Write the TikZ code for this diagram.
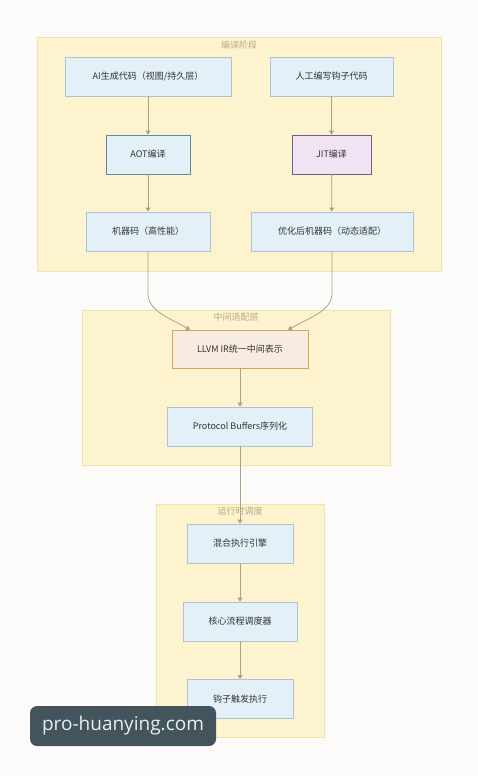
\documentclass[tikz,border=0pt]{standalone}
\usepackage{fontspec}
\setmainfont{Noto Sans CJK SC}
\newfontfamily\wmfont{Open Sans}
\usetikzlibrary{arrows.meta}
\definecolor{bgc}{HTML}{FDFBFA}
\definecolor{clfill}{HTML}{FDF3CE}
\definecolor{cldraw}{HTML}{F2E2AE}
\definecolor{nfill}{HTML}{E3F0F8}
\definecolor{ndraw}{HTML}{AFC2D2}
\definecolor{aotdraw}{HTML}{5E8C9C}
\definecolor{jitfill}{HTML}{EFE3F4}
\definecolor{jitdraw}{HTML}{6E5E80}
\definecolor{llfill}{HTML}{F8ECE0}
\definecolor{lldraw}{HTML}{E0A060}
\definecolor{arr}{HTML}{A8A486}
\definecolor{ttl}{HTML}{B8AA86}
\definecolor{wmbg}{HTML}{3A4C55}
\definecolor{wmtx}{HTML}{E8F0EC}
\tikzset{
  cluster/.style={fill=clfill, draw=cldraw, line width=0.6pt},
  ctitle/.style={text=ttl, font=\fontsize{9}{10}\selectfont, inner sep=0pt},
  nbox/.style={fill=nfill, draw=ndraw, line width=0.8pt, inner sep=0pt,
    font=\fontsize{9}{10}\selectfont, text=black!80},
  link/.style={draw=arr, line width=0.8pt, -{Triangle[width=5pt,length=4pt]}},
}
\begin{document}
\begin{tikzpicture}[x=1pt,y=-1pt]
\fill[bgc] (0,0) rectangle (478,776);
\useasboundingbox (0,0) rectangle (478,776);
% clusters
\draw[cluster] (37,37) rectangle (441,271);
\node[ctitle] (t1) at (239,45) {编译阶段};
\draw[cluster] (82,310) rectangle (390,465);
\node[ctitle] (t2) at (236,317) {中间适配层};
\draw[cluster] (156,504) rectangle (324,737);
\node[ctitle] (t3) at (240,511) {运行时调度};
% nodes
\node[nbox, minimum width=166pt, minimum height=39pt] (ai) at (148,76.5) {AI生成代码（视图/持久层）};
\node[nbox, minimum width=123pt, minimum height=39pt] (hand) at (331.5,76.5) {人工编写钩子代码};
\node[nbox, draw=aotdraw, minimum width=84pt, minimum height=39pt] (aot) at (148,154.5) {AOT编译};
\node[nbox, fill=jitfill, draw=jitdraw, minimum width=79pt, minimum height=39pt] (jit) at (331.5,154.5) {JIT编译};
\node[nbox, minimum width=124pt, minimum height=39pt] (mc) at (148,231.5) {机器码（高性能）};
\node[nbox, minimum width=162pt, minimum height=39pt] (omc) at (332,231.5) {优化后机器码（动态适配）};
\node[nbox, fill=llfill, draw=lldraw, minimum width=136pt, minimum height=38pt] (llvm) at (240,349) {LLVM IR统一中间表示};
\node[nbox, minimum width=145pt, minimum height=39pt] (pb) at (240,426.5) {Protocol Buffers序列化};
\node[nbox, minimum width=106pt, minimum height=39pt] (mix) at (240,543.5) {混合执行引擎};
\node[nbox, minimum width=114pt, minimum height=39pt] (core) at (240,621.5) {核心流程调度器};
\node[nbox, minimum width=106pt, minimum height=39pt] (hook) at (240,699) {钩子触发执行};
% links
\draw[link] (ai) -- (aot);
\draw[link] (aot) -- (mc);
\draw[link] (hand) -- (jit);
\draw[link] (jit) -- (omc);
\coordinate (lin) at (190,330);
\coordinate (rin) at (288,330);
\draw[link] (mc.south) -- ++(0,42) .. controls +(0,18) and (170,318) .. (lin);
\draw[link] (omc.south) -- ++(0,42) .. controls +(0,18) and (308,318) .. (rin);
\draw[link] (llvm) -- (pb);
\draw[link] (pb) -- (mix);
\draw[link] (mix) -- (core);
\draw[link] (core) -- (hook);
% watermark
\node[fill=wmbg, fill opacity=0.95, text opacity=1, rounded corners=7pt, minimum width=186pt, minimum height=40pt, inner sep=0pt, text=wmtx, font=\wmfont\fontsize{19}{22}\selectfont] (wm) at (123,726) {pro-huanying.com};
\end{tikzpicture}
\end{document}
